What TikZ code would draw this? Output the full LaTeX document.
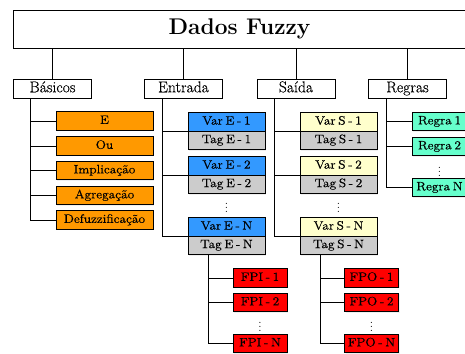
\documentclass[tikz,border=0pt]{standalone}
\usepackage{fontspec}
\usepackage{tikz}
\usetikzlibrary{shadows}
\newfontfamily\cheio{Latin Modern Roman}[FakeBold=0.45, FakeStretch=1.1, WordSpace=0.6]
\newfontfamily\medio{Latin Modern Roman}[FakeBold=0.25]
\definecolor{laranja}{HTML}{FF9900}
\definecolor{azul}{HTML}{3399FF}
\definecolor{amarelo}{HTML}{FFFFCC}
\definecolor{cinza}{HTML}{CCCCCC}
\definecolor{verde}{HTML}{66FFCC}
\definecolor{vermelho}{HTML}{FF0000}
\begin{document}
\begin{tikzpicture}[x=1pt, y=-1pt,
	linha/.style={line width=0.8pt},
	titulo/.style={draw, line width=0.9pt, inner sep=0pt, minimum width=453pt, minimum height=38pt, text height=15pt, text depth=4.5pt, font=\fontsize{22.7}{26}\selectfont\bfseries},
	grupo/.style={draw, fill=white, line width=0.9pt, inner sep=0pt, minimum width=78pt, minimum height=19pt, text height=10.5pt, text depth=3pt, font=\medio\fontsize{15.6}{17}\selectfont},
	caixa/.style={draw, line width=0.9pt, inner sep=0pt, minimum height=18.5pt, text height=8.5pt, text depth=2.8pt, font=\cheio\fontsize{12.2}{14}\selectfont, drop shadow={shadow xshift=1pt, shadow yshift=-1.2pt, fill=black!12}},
	pontos/.style={font=\fontsize{12}{14}\selectfont}]
	\clip (0,0) rectangle (465,353);
	\fill[white] (0,0) rectangle (465,353);
	% topo
	\node[titulo] (dados) at (239.5,29) {Dados Fuzzy};
	\node[grupo] (basicos) at (52.5,88.5) {Básicos};
	\node[grupo] (entrada) at (183.5,88.5) {Entrada};
	\node[grupo] (saida) at (296,88.5) {Saída};
	\node[grupo] (regras) at (407.5,88.5) {Regras};
	\draw[linha] (basicos.north |- dados.south) -- (basicos.north);
	\draw[linha] (entrada.north |- dados.south) -- (entrada.north);
	\draw[linha] (saida.north |- dados.south) -- (saida.north);
	\draw[linha] (regras.north |- dados.south) -- (regras.north);
	% basicos
	\coordinate (b0) at (30,98);
	\node[caixa, fill=laranja, minimum width=97pt] (e) at (104.5,121) {E};
	\node[caixa, fill=laranja, minimum width=97pt] (ou) at (104.5,146) {Ou};
	\node[caixa, fill=laranja, minimum width=97pt] (implicacao) at (104.5,170.5) {Implicação};
	\node[caixa, fill=laranja, minimum width=97pt] (agregacao) at (104.5,195.5) {Agregação};
	\node[caixa, fill=laranja, minimum width=97pt] (defuzz) at (104.5,220) {Defuzzificação};
	\draw[linha] (b0) |- (e.west);
	\draw[linha] (b0) |- (ou.west);
	\draw[linha] (b0) |- (implicacao.west);
	\draw[linha] (b0) |- (agregacao.west);
	\draw[linha] (b0) |- (defuzz.west);
	% entrada
	\coordinate (e0) at (162,98);
	\node[caixa, fill=azul, minimum width=77pt] (vare1) at (226.5,121.75) {Var E - 1};
	\node[caixa, fill=cinza, minimum width=77pt] (tage1) at (226.5,140.25) {Tag E - 1};
	\node[caixa, fill=azul, minimum width=77pt] (vare2) at (226.5,165.75) {Var E - 2};
	\node[caixa, fill=cinza, minimum width=77pt] (tage2) at (226.5,184.25) {Tag E - 2};
	\node[pontos] (dotse) at (226.5,205) {$\vdots$};
	\node[caixa, fill=azul, minimum width=77pt] (varen) at (226.5,226.75) {Var E - N};
	\node[caixa, fill=cinza, minimum width=77pt] (tagen) at (226.5,245.25) {Tag E - N};
	\draw[linha] (e0) |- (vare1.south west);
	\draw[linha] (e0) |- (vare2.south west);
	\draw[linha] (e0) |- (varen.south west);
	% saida
	\coordinate (s0) at (274.5,98);
	\node[caixa, fill=amarelo, minimum width=77pt] (vars1) at (338.5,121.75) {Var S - 1};
	\node[caixa, fill=cinza, minimum width=77pt] (tags1) at (338.5,140.25) {Tag S - 1};
	\node[caixa, fill=amarelo, minimum width=77pt] (vars2) at (338.5,165.75) {Var S - 2};
	\node[caixa, fill=cinza, minimum width=77pt] (tags2) at (338.5,184.25) {Tag S - 2};
	\node[pontos] (dotss) at (338.5,205) {$\vdots$};
	\node[caixa, fill=amarelo, minimum width=77pt] (varsn) at (338.5,226.75) {Var S - N};
	\node[caixa, fill=cinza, minimum width=77pt] (tagsn) at (338.5,245.25) {Tag S - N};
	\draw[linha] (s0) |- (vars1.south west);
	\draw[linha] (s0) |- (vars2.south west);
	\draw[linha] (s0) |- (varsn.south west);
	% regras
	\coordinate (r0) at (386.5,98);
	\node[caixa, fill=verde, minimum width=55pt] (regra1) at (439.5,121.5) {Regra 1};
	\node[caixa, fill=verde, minimum width=55pt] (regra2) at (439.5,146.5) {Regra 2};
	\node[pontos] (dotsr) at (439.5,168.5) {$\vdots$};
	\node[caixa, fill=verde, minimum width=55pt] (regran) at (439.5,187.5) {Regra N};
	\draw[linha] (r0) |- (regra1.west);
	\draw[linha] (r0) |- (regra2.west);
	\draw[linha] (r0) |- (regran.west);
	% funcoes de pertinencia
	\coordinate (fi0) at (tagen.south -| 208,0);
	\node[caixa, fill=vermelho, minimum width=54pt] (fpi1) at (260,278) {FPI - 1};
	\node[caixa, fill=vermelho, minimum width=54pt] (fpi2) at (260,302.5) {FPI - 2};
	\node[pontos] (dotsfi) at (260,324) {$\vdots$};
	\node[caixa, fill=vermelho, minimum width=54pt] (fpin) at (260,343.5) {FPI - N};
	\draw[linha] (fi0) |- (fpi1.west);
	\draw[linha] (fi0) |- (fpi2.west);
	\draw[linha] (fi0) |- (fpin.west);
	\coordinate (fo0) at (tagsn.south -| 320,0);
	\node[caixa, fill=vermelho, minimum width=54pt] (fpo1) at (371.5,278) {FPO - 1};
	\node[caixa, fill=vermelho, minimum width=54pt] (fpo2) at (371.5,302.5) {FPO - 2};
	\node[pontos] (dotsfo) at (371.5,324) {$\vdots$};
	\node[caixa, fill=vermelho, minimum width=54pt] (fpon) at (371.5,343.5) {FPO - N};
	\draw[linha] (fo0) |- (fpo1.west);
	\draw[linha] (fo0) |- (fpo2.west);
	\draw[linha] (fo0) |- (fpon.west);
\end{tikzpicture}
\end{document}
